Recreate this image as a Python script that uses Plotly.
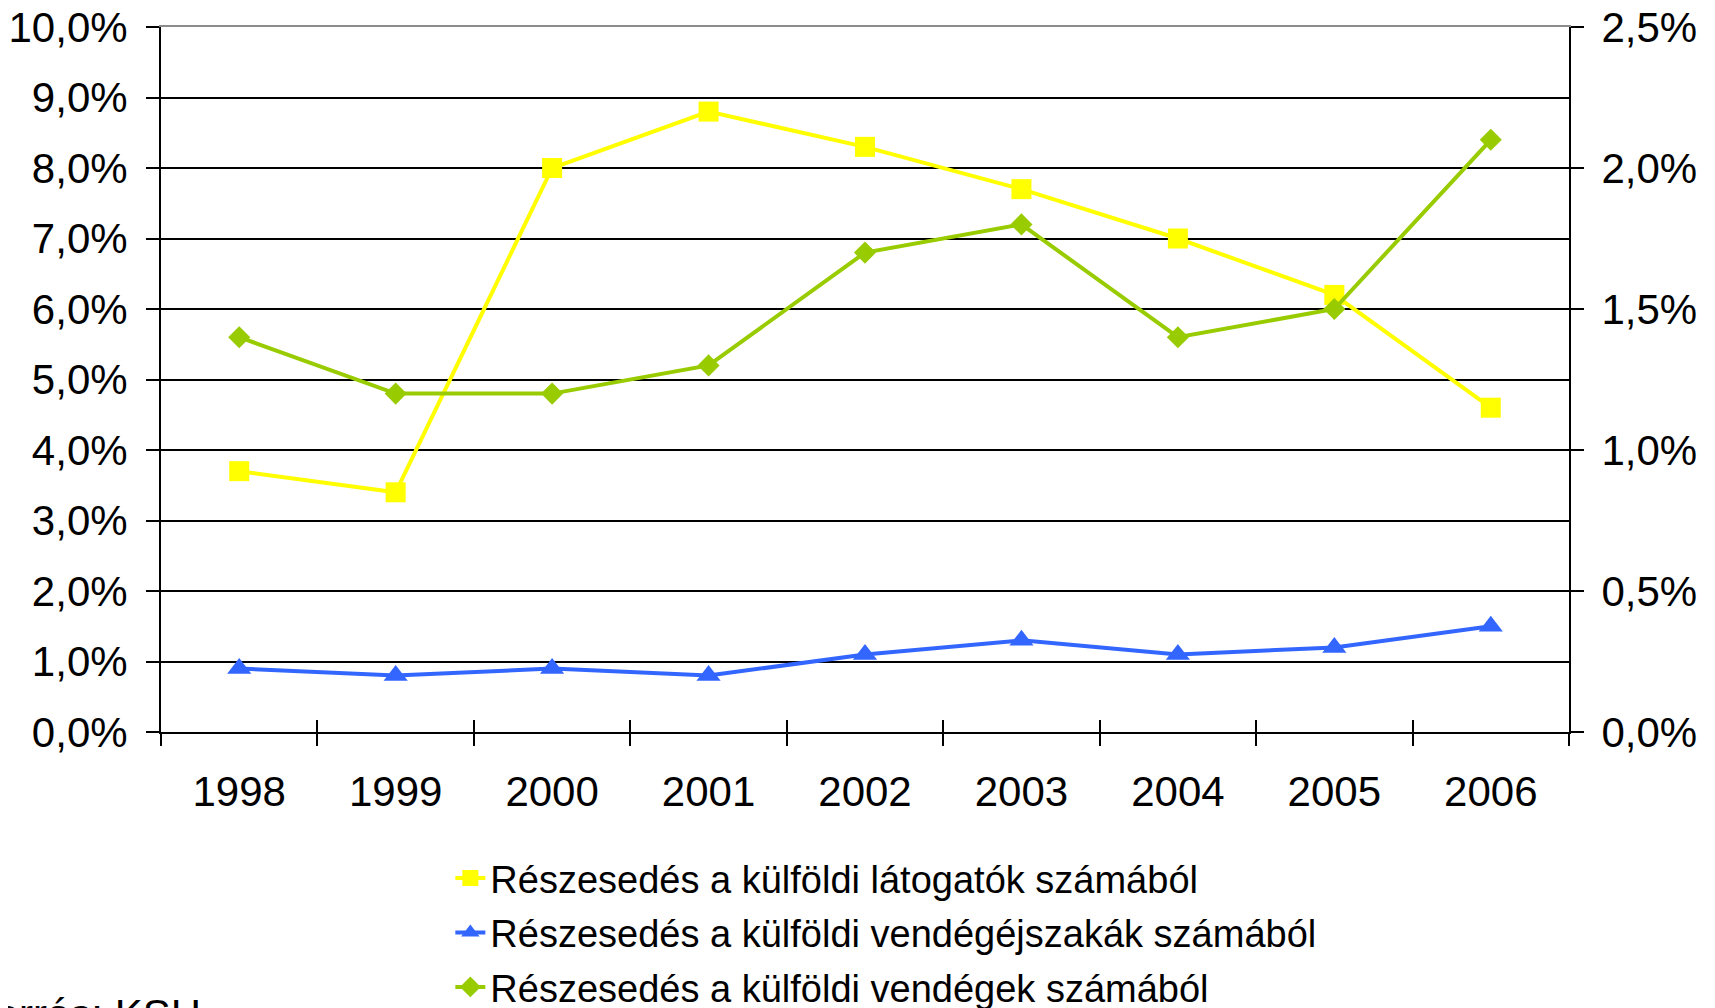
import plotly.graph_objects as go

years = ["1998", "1999", "2000", "2001", "2002", "2003", "2004", "2005", "2006"]
latogatok = [3.7, 3.4, 8.0, 8.8, 8.3, 7.7, 7.0, 6.2, 4.6]          # left axis, %
vendegejszakak = [0.9, 0.8, 0.9, 0.8, 1.1, 1.3, 1.1, 1.2, 1.5]     # left axis, %
vendegek = [1.4, 1.2, 1.2, 1.3, 1.7, 1.8, 1.4, 1.5, 2.1]           # right axis, %

names = [
    "Részesedés a külföldi látogatók számából",
    "Részesedés a külföldi vendégéjszakák számából",
    "Részesedés a külföldi vendégek számából",
]
left_ticks = [i / 100 for i in range(0, 11)]
right_ticks = [i / 1000 for i in range(0, 26, 5)]

FONT = "Liberation Sans, Arial, sans-serif"

fig = go.Figure()
fig.add_trace(go.Scatter(
    x=years, y=[v / 100 for v in latogatok], name=names[0], legendgroup="a",
    mode="lines+markers", line=dict(color="#FFFF00", width=4),
    marker=dict(symbol="square", size=20, color="#FFFF00"),
))
fig.add_trace(go.Scatter(
    x=years, y=[v / 100 for v in vendegejszakak], name=names[1], legendgroup="b",
    mode="lines+markers", line=dict(color="#3366FF", width=4),
    marker=dict(symbol="triangle-up", size=21, color="#3366FF"),
))
fig.add_trace(go.Scatter(
    x=years, y=[v / 100 for v in vendegek], name=names[2], legendgroup="c",
    mode="lines+markers", line=dict(color="#99CC00", width=4),
    marker=dict(symbol="diamond", size=17, color="#99CC00"),
    yaxis="y2",
))
# empty helper traces so overlay axes (inner ticks / top border) get drawn
fig.add_trace(go.Scatter(x=[None], y=[None], xaxis="x2", yaxis="y3",
                         showlegend=False, hoverinfo="skip"))
fig.add_trace(go.Scatter(x=[None], y=[None], xaxis="x3", yaxis="y4",
                         showlegend=False, hoverinfo="skip"))

tickfont = dict(family=FONT, size=42, color="black")

# page body has an 8px margin, so the figure is 8px smaller and offset
fig.update_layout(
    width=1707, height=1000,
    margin=dict(l=153, r=146, t=19, b=276, autoexpand=False),
    paper_bgcolor="white", plot_bgcolor="white",
    separators=", ",
    font=dict(family=FONT, color="black"),
    showlegend=True,
    legend=dict(
        x=0.2055, y=-0.163, xanchor="left", yanchor="top",
        font=dict(family=FONT, size=38, color="black"),
        traceorder="grouped", tracegroupgap=2,
        bgcolor="rgba(0,0,0,0)",
    ),
    xaxis=dict(
        type="category", categoryorder="array", categoryarray=years,
        range=[-0.5, 8.5], tickson="boundaries",
        ticks="outside", ticklen=12, tickwidth=2, tickcolor="black",
        showline=True, linecolor="black", linewidth=2,
        showgrid=False, zeroline=False, tickfont=tickfont,
        ticklabelstandoff=22, ticklabeloverflow="allow",
    ),
    xaxis2=dict(
        overlaying="x", anchor="y", type="linear", range=[-0.5, 8.5],
        tickmode="linear", tick0=-0.5, dtick=1,
        ticks="inside", ticklen=12, tickwidth=2, tickcolor="black",
        showticklabels=False, showgrid=False, showline=False, zeroline=False,
    ),
    xaxis3=dict(
        overlaying="x", anchor="y", side="top", type="linear", range=[-0.5, 8.5],
        ticks="", showticklabels=False, showgrid=False, zeroline=False,
        showline=True, linecolor="#8c8c8c", linewidth=2,
    ),
    yaxis=dict(
        range=[0, 0.1], tickmode="array", tickvals=left_ticks, tickformat=".1%",
        ticks="outside", ticklen=13, tickwidth=2, tickcolor="black",
        showline=True, linecolor="black", linewidth=2,
        showgrid=True, gridcolor="black", gridwidth=2,
        zeroline=False, tickfont=tickfont, ticklabelstandoff=10,
        ticklabeloverflow="allow",
    ),
    yaxis2=dict(
        overlaying="y", side="right", anchor="x",
        range=[0, 0.025], tickmode="array", tickvals=right_ticks, tickformat=".1%",
        ticks="outside", ticklen=13, tickwidth=2, tickcolor="black",
        showline=True, linecolor="black", linewidth=2,
        showgrid=False, zeroline=False, tickfont=tickfont, ticklabelstandoff=9,
        ticklabeloverflow="allow",
    ),
    yaxis3=dict(
        overlaying="y", side="left", anchor="x",
        range=[0, 0.1], tickmode="array", tickvals=left_ticks,
        ticks="inside", ticklen=12, tickwidth=2, tickcolor="black",
        showticklabels=False, showgrid=False, showline=False, zeroline=False,
    ),
    yaxis4=dict(
        overlaying="y", side="right", anchor="x",
        range=[0, 0.025], tickmode="array", tickvals=right_ticks,
        ticks="inside", ticklen=12, tickwidth=2, tickcolor="black",
        showticklabels=False, showgrid=False, showline=False, zeroline=False,
    ),
    annotations=[dict(
        text="Forrás: KSH", xref="paper", yref="paper",
        x=-0.137, y=-0.365, xanchor="left", yanchor="top",
        showarrow=False, font=dict(family=FONT, size=42, color="black"),
    )],
)

fig.write_html("out.html")
